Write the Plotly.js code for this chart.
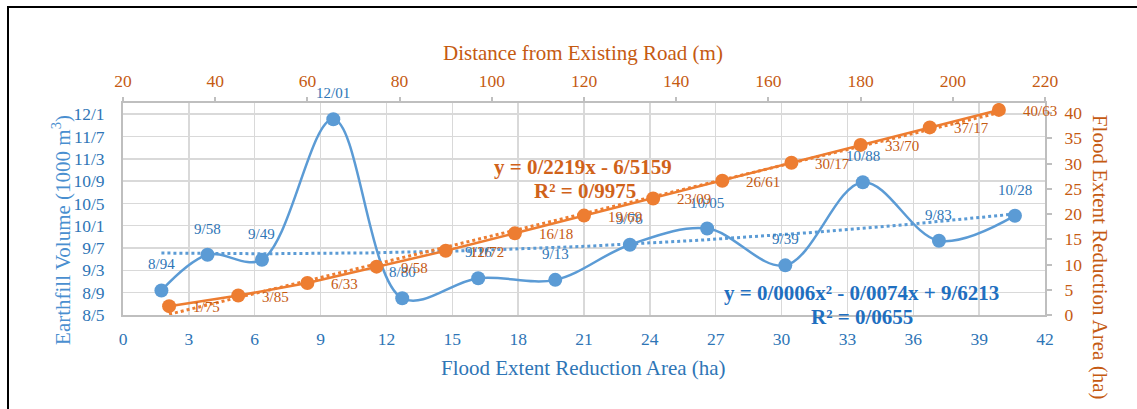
<!DOCTYPE html>
<html><head><meta charset="utf-8">
<script src="https://cdn.plot.ly/plotly-3.0.1.min.js"></script>
<style>
html,body{margin:0;padding:0;background:#fff;overflow:hidden}
#chart{width:1137px;height:409px}
#frame{position:absolute;left:7px;top:6px;width:1200px;height:500px;border-left:2px solid #000;border-top:2px solid #000;pointer-events:none}
</style></head><body>
<div id="chart"></div><div id="frame"></div>
<script>
// ---- data ----
const distanceFromRoad = [30, 45, 60, 75, 90, 105, 120, 135, 150, 165, 180, 195, 210];
const floodArea = [1.75, 3.85, 6.33, 9.58, 12.72, 16.18, 19.69, 23.09, 26.61, 30.17, 33.70, 37.17, 40.63];
const earthfillVolume = [8.94, 9.58, 9.49, 12.01, 8.80, 9.16, 9.13, 9.76, 10.05, 9.39, 10.88, 9.83, 10.28];
const leftTickVals = [8.5, 8.9, 9.3, 9.7, 10.1, 10.5, 10.9, 11.3, 11.7, 12.1];
const leftTickText = ['8/5', '8/9', '9/3', '9/7', '10/1', '10/5', '10/9', '11/3', '11/7', '12/1'];
const linearTrendCoef = [0.2219, -6.5159];        // slope, intercept
const polyTrendCoef = [0.0006, -0.0074, 9.6213];  // a, b, c
const linearEqText = ['y = 0/2219x - 6/5159', 'R² = 0/9975'];
const polyEqText = ['y = 0/0006x² - 0/0074x + 9/6213', 'R² = 0/0655'];

// ---- styles ----
const FONT = '"Liberation Serif", "Times New Roman", serif';
const blueMark = '#5B9BD5', blueText = '#2E75B6', blueEq = '#1F6FC0';
const orangeMark = '#ED7D31', orangeText = '#C55A11', orangeEq = '#D0621A';
const gridC = '#D9D9D9', lineC = '#BFBFBF';
const fmt = v => v.toFixed(2).replace('.', '/');

// trendlines from the displayed equations
const polyX = [], polyY = [];
const x0 = floodArea[0], x1 = floodArea[floodArea.length - 1];
for (let i = 0; i <= 120; i++) {
  const x = x0 + (x1 - x0) * i / 120;
  polyX.push(x);
  polyY.push(polyTrendCoef[0] * x * x + polyTrendCoef[1] * x + polyTrendCoef[2]);
}
const linX = [distanceFromRoad[0], distanceFromRoad[distanceFromRoad.length - 1]];
const linY = linX.map(x => linearTrendCoef[0] * x + linearTrendCoef[1]);

const traces = [
  {x: polyX, y: polyY, xaxis: 'x', yaxis: 'y', mode: 'lines',
   line: {color: blueMark, width: 3, dash: 'dot'}, hoverinfo: 'skip'},
  {x: floodArea, y: earthfillVolume, xaxis: 'x', yaxis: 'y', mode: 'lines+markers',
   line: {color: blueMark, width: 2.5, shape: 'spline', smoothing: 1},
   marker: {color: blueMark, size: 14}},
  {x: linX, y: linY, xaxis: 'x2', yaxis: 'y2', mode: 'lines',
   line: {color: orangeMark, width: 3, dash: 'dot'}, hoverinfo: 'skip'},
  {x: distanceFromRoad, y: floodArea, xaxis: 'x2', yaxis: 'y2', mode: 'lines+markers',
   line: {color: orangeMark, width: 2.5},
   marker: {color: orangeMark, size: 14}}
];

const ann = [];
floodArea.forEach((x, i) => {
  ann.push({x: x, y: earthfillVolume[i], xref: 'x', yref: 'y', text: fmt(earthfillVolume[i]),
    showarrow: false, xanchor: 'center', yanchor: 'middle', yshift: 26,
    font: {family: FONT, size: 15, color: blueText}});
});
distanceFromRoad.forEach((x, i) => {
  ann.push({x: x, y: floodArea[i], xref: 'x2', yref: 'y2', text: fmt(floodArea[i]),
    showarrow: false, xanchor: 'left', yanchor: 'middle', xshift: 22, yshift: -1,
    font: {family: FONT, size: 15, color: orangeText}});
});
function paperText(x, y, text, size, color, angle) {
  ann.push({x: x, y: y, xref: 'paper', yref: 'paper', text: text, showarrow: false,
    xanchor: 'center', yanchor: 'middle', textangle: angle || 0,
    font: {family: FONT, size: size, color: color}});
}
// equations
paperText(0.499, 0.698, '<b>' + linearEqText[0] + '</b>', 21, orangeEq);
paperText(0.501, 0.585, '<b>' + linearEqText[1] + '</b>', 21, orangeEq);
paperText(0.8015, 0.104, '<b>' + polyEqText[0] + '</b>', 21, blueEq);
paperText(0.801, -0.01, '<b>' + polyEqText[1] + '</b>', 21, blueEq);
// axis titles
paperText(0.499, 1.236, 'Distance from Existing Road (m)', 21, orangeText);
paperText(0.499, -0.25, 'Flood Extent Reduction Area (ha)', 21, blueText);
paperText(-0.0662, 0.401, 'Earthfill Volume (1000 m<sup>3</sup>)', 21, '#4A8FD0', -90);
paperText(1.0597, 0.274, 'Flood Extent Reduction Area (ha)', 21, orangeText, 90);

const axBase = {zeroline: false, showline: true, linecolor: lineC, linewidth: 2, fixedrange: true};
const layout = {
  width: 1137, height: 409,
  margin: {l: 123, r: 92, t: 103, b: 94, pad: 0},
  paper_bgcolor: '#fff', plot_bgcolor: '#fff',
  showlegend: false,
  font: {family: FONT},
  xaxis: Object.assign({}, axBase, {range: [0, 42], tick0: 0, dtick: 3, showgrid: true,
    gridcolor: gridC, gridwidth: 1.5, ticks: '', ticklabelstandoff: 7,
    tickfont: {family: FONT, size: 17.5, color: blueText}}),
  xaxis2: Object.assign({}, axBase, {overlaying: 'x', side: 'top', range: [20, 220], tick0: 20, dtick: 20,
    showgrid: false, ticks: 'outside', ticklen: 4, tickwidth: 2, tickcolor: lineC, ticklabelstandoff: 3,
    tickfont: {family: FONT, size: 17.5, color: orangeText}}),
  yaxis: Object.assign({}, axBase, {range: [8.5, 12.3], tickmode: 'array', tickvals: leftTickVals,
    ticktext: leftTickText, showgrid: true, gridcolor: gridC, gridwidth: 1.5, ticks: '',
    ticklabelstandoff: 13, tickfont: {family: FONT, size: 17.5, color: blueText}}),
  yaxis2: Object.assign({}, axBase, {overlaying: 'y', side: 'right', range: [0, 42], tick0: 0, dtick: 5,
    showgrid: false, ticks: 'outside', ticklen: 5, tickwidth: 2, tickcolor: lineC, ticklabelstandoff: 9,
    tickfont: {family: FONT, size: 17.5, color: orangeText}}),
  annotations: ann
};
Plotly.newPlot('chart', traces, layout, {staticPlot: true, displayModeBar: false});
</script>
</body></html>
